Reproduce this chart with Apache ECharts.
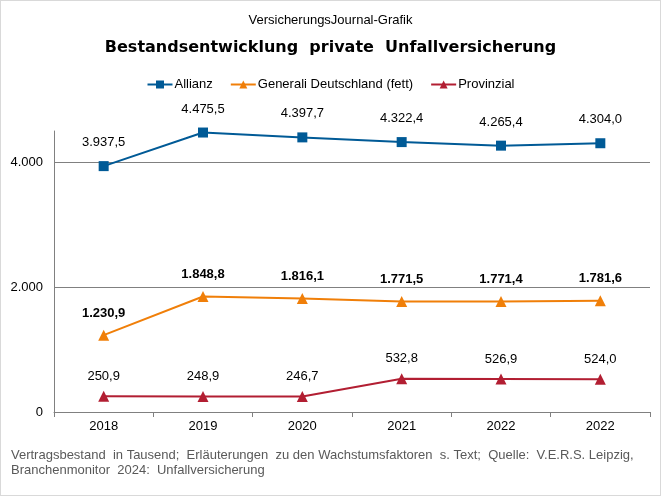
<!DOCTYPE html>
<html>
<head>
<meta charset="utf-8">
<script src="https://cdn.jsdelivr.net/npm/echarts@6/dist/echarts.min.js"></script>
<style>
  html, body { margin: 0; padding: 0; background: #fff; }
  #main { width: 659px; height: 494px; border: 1px solid #d9d9d9; }
</style>
</head>
<body>
<div id="main"></div>
<script>
// Daten (Vertragsbestand in Tausend)
var jahre = ['2018', '2019', '2020', '2021', '2022', '2022'];
var allianz = [3937.5, 4475.5, 4397.7, 4322.4, 4265.4, 4304.0];
var generali = [1230.9, 1848.8, 1816.1, 1771.5, 1771.4, 1781.6];
var provinzial = [250.9, 248.9, 246.7, 532.8, 526.9, 524.0];

function fmt(v, dec) {
    var s = v.toFixed(dec);
    var parts = s.split('.');
    var ganz = parts[0].replace(/\B(?=(\d{3})+(?!\d))/g, '.');
    return parts.length > 1 ? ganz + ',' + parts[1] : ganz;
}

var myChart = echarts.init(document.getElementById('main'));
var schrift = 'Liberation Sans, Arial, sans-serif';

option = {
    animation: false,
    textStyle: { fontFamily: schrift },
    title: [
        {
            text: 'VersicherungsJournal-Grafik',
            left: 'center',
            top: 8,
            textStyle: { fontSize: 13, fontWeight: 'normal', color: '#000', fontFamily: schrift }
        },
        {
            text: 'Bestandsentwicklung  private  Unfallversicherung',
            left: 'center',
            top: 34,
            textStyle: { fontSize: 16, fontWeight: 'bold', color: '#000', fontFamily: 'DejaVu Sans, sans-serif' }
        },
        {
            text: 'Vertragsbestand  in Tausend;  Erläuterungen  zu den Wachstumsfaktoren  s. Text;  Quelle:  V.E.R.S. Leipzig,\nBranchenmonitor  2024:  Unfallversicherung',
            left: 10,
            top: 447,
            padding: 0,
            textStyle: { fontSize: 13, fontWeight: 'normal', color: '#595959', lineHeight: 15, fontFamily: schrift }
        }
    ],
    legend: {
        top: 72,
        left: 'center',
        itemWidth: 25,
        itemHeight: 10,
        itemGap: 17,
        textStyle: { fontSize: 13, color: '#000', padding: [0, 0, 0, -3] },
        data: ['Allianz', 'Generali Deutschland (fett)', 'Provinzial']
    },
    grid: {
        left: 53,
        right: 10,
        top: 130,
        bottom: 83,
        containLabel: false
    },
    xAxis: {
        type: 'category',
        boundaryGap: true,
        data: jahre,
        axisLine: { lineStyle: { color: '#808080', width: 1 } },
        axisTick: { show: true, alignWithLabel: false, length: 5, lineStyle: { color: '#808080' } },
        axisLabel: { fontSize: 13, color: '#000', margin: 8 }
    },
    yAxis: {
        type: 'value',
        min: 0,
        max: 4500,
        interval: 2000,
        axisLine: { show: true, lineStyle: { color: '#808080', width: 1 } },
        axisTick: { show: false },
        axisLabel: {
            fontSize: 13,
            color: '#000',
            margin: 11,
            showMaxLabel: false,
            formatter: function (v) { return fmt(v, 0); }
        },
        splitLine: { show: true, showMaxLine: false, lineStyle: { color: '#808080', width: 1 } }
    },
    series: [
        {
            name: 'Allianz',
            type: 'line',
            data: allianz,
            symbol: 'rect',
            symbolSize: 10,
            itemStyle: { color: '#005A96' },
            lineStyle: { color: '#005A96', width: 2 },
            label: {
                show: true,
                position: 'top',
                distance: 12,
                fontSize: 13,
                color: '#000',
                formatter: function (p) { return fmt(p.value, 1); }
            }
        },
        {
            name: 'Generali Deutschland (fett)',
            type: 'line',
            data: generali,
            symbol: 'triangle',
            symbolSize: 11,
            itemStyle: { color: '#F07F09' },
            lineStyle: { color: '#F07F09', width: 2 },
            label: {
                show: true,
                position: 'top',
                distance: 10,
                fontSize: 13,
                fontWeight: 'bold',
                color: '#000',
                formatter: function (p) { return fmt(p.value, 1); }
            }
        },
        {
            name: 'Provinzial',
            type: 'line',
            data: provinzial,
            symbol: 'triangle',
            symbolSize: 11,
            itemStyle: { color: '#B21E32' },
            lineStyle: { color: '#B21E32', width: 2 },
            label: {
                show: true,
                position: 'top',
                distance: 8,
                fontSize: 13,
                color: '#000',
                formatter: function (p) { return fmt(p.value, 1); }
            }
        }
    ]
};

myChart.setOption(option);
</script>
</body>
</html>
